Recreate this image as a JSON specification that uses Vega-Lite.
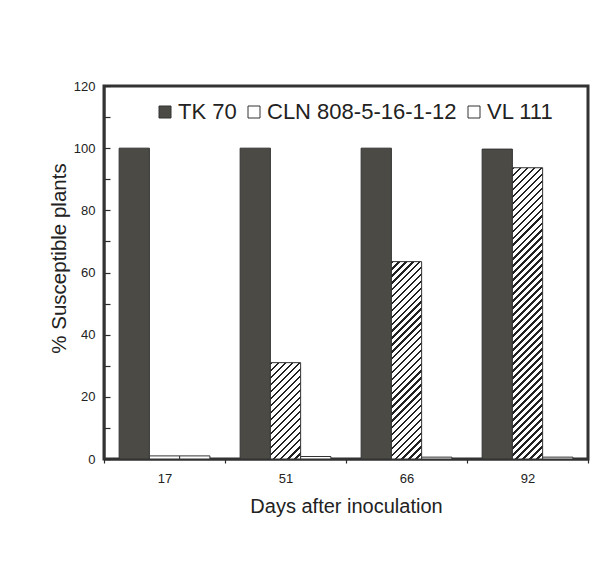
{
  "$schema": "https://vega.github.io/schema/vega-lite/v6.json",
  "autosize": {"type": "none"},
  "padding": {"left": 104, "top": 86, "right": 26, "bottom": 105},
  "width": 484,
  "height": 373,
  "background": "#ffffff",
  "view": {"stroke": "#333333", "strokeWidth": 3},
  "config": {
    "axis": {
      "domainColor": "#333333", "domainWidth": 2, "tickColor": "#2a2a2a", "tickWidth": 1.2,
      "labelColor": "#222222", "titleColor": "#222222",
      "labelFont": "Liberation Sans", "titleFont": "Liberation Sans",
      "titleFontWeight": "normal", "grid": false
    },
    "legend": {"labelFont": "Liberation Sans"}
  },
  "data": {
    "values": [
      {"day": "17", "series": "TK 70", "value": 100},
      {"day": "17", "series": "CLN 808-5-16-1-12", "value": 1},
      {"day": "17", "series": "VL 111", "value": 1},
      {"day": "51", "series": "TK 70", "value": 100},
      {"day": "51", "series": "CLN 808-5-16-1-12", "value": 31},
      {"day": "51", "series": "VL 111", "value": 0.8},
      {"day": "66", "series": "TK 70", "value": 100},
      {"day": "66", "series": "CLN 808-5-16-1-12", "value": 63.5},
      {"day": "66", "series": "VL 111", "value": 0.6},
      {"day": "92", "series": "TK 70", "value": 99.7},
      {"day": "92", "series": "CLN 808-5-16-1-12", "value": 93.7},
      {"day": "92", "series": "VL 111", "value": 0.6}
    ]
  },
  "mark": {"type": "bar", "stroke": "#333333", "strokeWidth": 1},
  "encoding": {
    "x": {
      "field": "day", "type": "nominal",
      "scale": {"paddingInner": 0, "paddingOuter": 0},
      "title": "Days after inoculation",
      "axis": {"labelAngle": 0, "labelFontSize": 13, "labelPadding": 9, "tickSize": 4, "tickBand": "extent", "titleFontSize": 20, "titlePadding": 11}
    },
    "xOffset": {
      "field": "series", "type": "nominal",
      "sort": ["TK 70", "CLN 808-5-16-1-12", "VL 111"],
      "scale": {"paddingInner": 0, "paddingOuter": 0.5}
    },
    "y": {
      "field": "value", "type": "quantitative",
      "scale": {"domain": [0, 120], "nice": false},
      "title": "% Susceptible plants",
      "axis": {
        "domain": true, "domainColor": "#333333", "domainWidth": 2,
        "values": [0, 10, 20, 30, 40, 50, 60, 70, 80, 90, 100, 110, 120],
        "labelExpr": "datum.value % 20 === 0 ? datum.label : ''",
        "labelFontSize": 13, "tickSize": -6, "labelPadding": 15,
        "titleFontSize": 20.5, "titlePadding": 4, "titleY": 172
      }
    },
    "fill": {
      "condition": [
        {"test": "datum.day === '51' && datum.series === 'CLN 808-5-16-1-12'",
         "value": {"gradient": "linear", "x1": 0, "y1": 0, "x2": 0.3755, "y2": 1.1961, "stops": [
          {"offset":0,"color":"#fff"},{"offset":0,"color":"#222"},{"offset":0.0194,"color":"#222"},{"offset":0.0194,"color":"#fff"},
          {"offset":0.0556,"color":"#fff"},{"offset":0.0556,"color":"#222"},{"offset":0.075,"color":"#222"},{"offset":0.075,"color":"#fff"},
          {"offset":0.1111,"color":"#fff"},{"offset":0.1111,"color":"#222"},{"offset":0.1306,"color":"#222"},{"offset":0.1306,"color":"#fff"},
          {"offset":0.1667,"color":"#fff"},{"offset":0.1667,"color":"#222"},{"offset":0.1861,"color":"#222"},{"offset":0.1861,"color":"#fff"},
          {"offset":0.2222,"color":"#fff"},{"offset":0.2222,"color":"#222"},{"offset":0.2417,"color":"#222"},{"offset":0.2417,"color":"#fff"},
          {"offset":0.2778,"color":"#fff"},{"offset":0.2778,"color":"#222"},{"offset":0.2972,"color":"#222"},{"offset":0.2972,"color":"#fff"},
          {"offset":0.3333,"color":"#fff"},{"offset":0.3333,"color":"#222"},{"offset":0.3528,"color":"#222"},{"offset":0.3528,"color":"#fff"},
          {"offset":0.3889,"color":"#fff"},{"offset":0.3889,"color":"#222"},{"offset":0.4083,"color":"#222"},{"offset":0.4083,"color":"#fff"},
          {"offset":0.4444,"color":"#fff"},{"offset":0.4444,"color":"#222"},{"offset":0.4639,"color":"#222"},{"offset":0.4639,"color":"#fff"},
          {"offset":0.5,"color":"#fff"},{"offset":0.5,"color":"#222"},{"offset":0.5194,"color":"#222"},{"offset":0.5194,"color":"#fff"},
          {"offset":0.5556,"color":"#fff"},{"offset":0.5556,"color":"#222"},{"offset":0.575,"color":"#222"},{"offset":0.575,"color":"#fff"},
          {"offset":0.6111,"color":"#fff"},{"offset":0.6111,"color":"#222"},{"offset":0.6306,"color":"#222"},{"offset":0.6306,"color":"#fff"},
          {"offset":0.6667,"color":"#fff"},{"offset":0.6667,"color":"#222"},{"offset":0.6861,"color":"#222"},{"offset":0.6861,"color":"#fff"},
          {"offset":0.7222,"color":"#fff"},{"offset":0.7222,"color":"#222"},{"offset":0.7417,"color":"#222"},{"offset":0.7417,"color":"#fff"},
          {"offset":0.7778,"color":"#fff"},{"offset":0.7778,"color":"#222"},{"offset":0.7972,"color":"#222"},{"offset":0.7972,"color":"#fff"},
          {"offset":0.8333,"color":"#fff"},{"offset":0.8333,"color":"#222"},{"offset":0.8528,"color":"#222"},{"offset":0.8528,"color":"#fff"},
          {"offset":0.8889,"color":"#fff"},{"offset":0.8889,"color":"#222"},{"offset":0.9083,"color":"#222"},{"offset":0.9083,"color":"#fff"},
          {"offset":0.9444,"color":"#fff"},{"offset":0.9444,"color":"#222"},{"offset":0.9639,"color":"#222"},{"offset":0.9639,"color":"#fff"},
          {"offset":1,"color":"#fff"}
         ]}},
        {"test": "datum.day === '66' && datum.series === 'CLN 808-5-16-1-12'",
         "value": {"gradient": "linear", "x1": 0, "y1": 0, "x2": 0.17269, "y2": 1.12678, "stops": [
          {"offset":0,"color":"#fff"},{"offset":0,"color":"#222"},{"offset":0.0106,"color":"#222"},{"offset":0.0106,"color":"#fff"},
          {"offset":0.0303,"color":"#fff"},{"offset":0.0303,"color":"#222"},{"offset":0.0409,"color":"#222"},{"offset":0.0409,"color":"#fff"},
          {"offset":0.0606,"color":"#fff"},{"offset":0.0606,"color":"#222"},{"offset":0.0712,"color":"#222"},{"offset":0.0712,"color":"#fff"},
          {"offset":0.0909,"color":"#fff"},{"offset":0.0909,"color":"#222"},{"offset":0.1015,"color":"#222"},{"offset":0.1015,"color":"#fff"},
          {"offset":0.1212,"color":"#fff"},{"offset":0.1212,"color":"#222"},{"offset":0.1318,"color":"#222"},{"offset":0.1318,"color":"#fff"},
          {"offset":0.1515,"color":"#fff"},{"offset":0.1515,"color":"#222"},{"offset":0.1621,"color":"#222"},{"offset":0.1621,"color":"#fff"},
          {"offset":0.1818,"color":"#fff"},{"offset":0.1818,"color":"#222"},{"offset":0.1924,"color":"#222"},{"offset":0.1924,"color":"#fff"},
          {"offset":0.2121,"color":"#fff"},{"offset":0.2121,"color":"#222"},{"offset":0.2227,"color":"#222"},{"offset":0.2227,"color":"#fff"},
          {"offset":0.2424,"color":"#fff"},{"offset":0.2424,"color":"#222"},{"offset":0.253,"color":"#222"},{"offset":0.253,"color":"#fff"},
          {"offset":0.2727,"color":"#fff"},{"offset":0.2727,"color":"#222"},{"offset":0.2833,"color":"#222"},{"offset":0.2833,"color":"#fff"},
          {"offset":0.303,"color":"#fff"},{"offset":0.303,"color":"#222"},{"offset":0.3136,"color":"#222"},{"offset":0.3136,"color":"#fff"},
          {"offset":0.3333,"color":"#fff"},{"offset":0.3333,"color":"#222"},{"offset":0.3439,"color":"#222"},{"offset":0.3439,"color":"#fff"},
          {"offset":0.3636,"color":"#fff"},{"offset":0.3636,"color":"#222"},{"offset":0.3742,"color":"#222"},{"offset":0.3742,"color":"#fff"},
          {"offset":0.3939,"color":"#fff"},{"offset":0.3939,"color":"#222"},{"offset":0.4045,"color":"#222"},{"offset":0.4045,"color":"#fff"},
          {"offset":0.4242,"color":"#fff"},{"offset":0.4242,"color":"#222"},{"offset":0.4348,"color":"#222"},{"offset":0.4348,"color":"#fff"},
          {"offset":0.4545,"color":"#fff"},{"offset":0.4545,"color":"#222"},{"offset":0.4652,"color":"#222"},{"offset":0.4652,"color":"#fff"},
          {"offset":0.4848,"color":"#fff"},{"offset":0.4848,"color":"#222"},{"offset":0.4955,"color":"#222"},{"offset":0.4955,"color":"#fff"},
          {"offset":0.5152,"color":"#fff"},{"offset":0.5152,"color":"#222"},{"offset":0.5258,"color":"#222"},{"offset":0.5258,"color":"#fff"},
          {"offset":0.5455,"color":"#fff"},{"offset":0.5455,"color":"#222"},{"offset":0.5561,"color":"#222"},{"offset":0.5561,"color":"#fff"},
          {"offset":0.5758,"color":"#fff"},{"offset":0.5758,"color":"#222"},{"offset":0.5864,"color":"#222"},{"offset":0.5864,"color":"#fff"},
          {"offset":0.6061,"color":"#fff"},{"offset":0.6061,"color":"#222"},{"offset":0.6167,"color":"#222"},{"offset":0.6167,"color":"#fff"},
          {"offset":0.6364,"color":"#fff"},{"offset":0.6364,"color":"#222"},{"offset":0.647,"color":"#222"},{"offset":0.647,"color":"#fff"},
          {"offset":0.6667,"color":"#fff"},{"offset":0.6667,"color":"#222"},{"offset":0.6773,"color":"#222"},{"offset":0.6773,"color":"#fff"},
          {"offset":0.697,"color":"#fff"},{"offset":0.697,"color":"#222"},{"offset":0.7076,"color":"#222"},{"offset":0.7076,"color":"#fff"},
          {"offset":0.7273,"color":"#fff"},{"offset":0.7273,"color":"#222"},{"offset":0.7379,"color":"#222"},{"offset":0.7379,"color":"#fff"},
          {"offset":0.7576,"color":"#fff"},{"offset":0.7576,"color":"#222"},{"offset":0.7682,"color":"#222"},{"offset":0.7682,"color":"#fff"},
          {"offset":0.7879,"color":"#fff"},{"offset":0.7879,"color":"#222"},{"offset":0.7985,"color":"#222"},{"offset":0.7985,"color":"#fff"},
          {"offset":0.8182,"color":"#fff"},{"offset":0.8182,"color":"#222"},{"offset":0.8288,"color":"#222"},{"offset":0.8288,"color":"#fff"},
          {"offset":0.8485,"color":"#fff"},{"offset":0.8485,"color":"#222"},{"offset":0.8591,"color":"#222"},{"offset":0.8591,"color":"#fff"},
          {"offset":0.8788,"color":"#fff"},{"offset":0.8788,"color":"#222"},{"offset":0.8894,"color":"#222"},{"offset":0.8894,"color":"#fff"},
          {"offset":0.9091,"color":"#fff"},{"offset":0.9091,"color":"#222"},{"offset":0.9197,"color":"#222"},{"offset":0.9197,"color":"#fff"},
          {"offset":0.9394,"color":"#fff"},{"offset":0.9394,"color":"#222"},{"offset":0.95,"color":"#222"},{"offset":0.95,"color":"#fff"},
          {"offset":0.9697,"color":"#fff"},{"offset":0.9697,"color":"#222"},{"offset":0.9803,"color":"#222"},{"offset":0.9803,"color":"#fff"},
          {"offset":1,"color":"#fff"}
         ]}},
        {"test": "datum.day === '92' && datum.series === 'CLN 808-5-16-1-12'",
         "value": {"gradient": "linear", "x1": 0, "y1": 0, "x2": 0.11343, "y2": 1.09214, "stops": [
          {"offset":0,"color":"#fff"},{"offset":0,"color":"#222"},{"offset":0.0076,"color":"#222"},{"offset":0.0076,"color":"#fff"},
          {"offset":0.0217,"color":"#fff"},{"offset":0.0217,"color":"#222"},{"offset":0.0293,"color":"#222"},{"offset":0.0293,"color":"#fff"},
          {"offset":0.0435,"color":"#fff"},{"offset":0.0435,"color":"#222"},{"offset":0.0511,"color":"#222"},{"offset":0.0511,"color":"#fff"},
          {"offset":0.0652,"color":"#fff"},{"offset":0.0652,"color":"#222"},{"offset":0.0728,"color":"#222"},{"offset":0.0728,"color":"#fff"},
          {"offset":0.087,"color":"#fff"},{"offset":0.087,"color":"#222"},{"offset":0.0946,"color":"#222"},{"offset":0.0946,"color":"#fff"},
          {"offset":0.1087,"color":"#fff"},{"offset":0.1087,"color":"#222"},{"offset":0.1163,"color":"#222"},{"offset":0.1163,"color":"#fff"},
          {"offset":0.1304,"color":"#fff"},{"offset":0.1304,"color":"#222"},{"offset":0.138,"color":"#222"},{"offset":0.138,"color":"#fff"},
          {"offset":0.1522,"color":"#fff"},{"offset":0.1522,"color":"#222"},{"offset":0.1598,"color":"#222"},{"offset":0.1598,"color":"#fff"},
          {"offset":0.1739,"color":"#fff"},{"offset":0.1739,"color":"#222"},{"offset":0.1815,"color":"#222"},{"offset":0.1815,"color":"#fff"},
          {"offset":0.1957,"color":"#fff"},{"offset":0.1957,"color":"#222"},{"offset":0.2033,"color":"#222"},{"offset":0.2033,"color":"#fff"},
          {"offset":0.2174,"color":"#fff"},{"offset":0.2174,"color":"#222"},{"offset":0.225,"color":"#222"},{"offset":0.225,"color":"#fff"},
          {"offset":0.2391,"color":"#fff"},{"offset":0.2391,"color":"#222"},{"offset":0.2467,"color":"#222"},{"offset":0.2467,"color":"#fff"},
          {"offset":0.2609,"color":"#fff"},{"offset":0.2609,"color":"#222"},{"offset":0.2685,"color":"#222"},{"offset":0.2685,"color":"#fff"},
          {"offset":0.2826,"color":"#fff"},{"offset":0.2826,"color":"#222"},{"offset":0.2902,"color":"#222"},{"offset":0.2902,"color":"#fff"},
          {"offset":0.3043,"color":"#fff"},{"offset":0.3043,"color":"#222"},{"offset":0.312,"color":"#222"},{"offset":0.312,"color":"#fff"},
          {"offset":0.3261,"color":"#fff"},{"offset":0.3261,"color":"#222"},{"offset":0.3337,"color":"#222"},{"offset":0.3337,"color":"#fff"},
          {"offset":0.3478,"color":"#fff"},{"offset":0.3478,"color":"#222"},{"offset":0.3554,"color":"#222"},{"offset":0.3554,"color":"#fff"},
          {"offset":0.3696,"color":"#fff"},{"offset":0.3696,"color":"#222"},{"offset":0.3772,"color":"#222"},{"offset":0.3772,"color":"#fff"},
          {"offset":0.3913,"color":"#fff"},{"offset":0.3913,"color":"#222"},{"offset":0.3989,"color":"#222"},{"offset":0.3989,"color":"#fff"},
          {"offset":0.413,"color":"#fff"},{"offset":0.413,"color":"#222"},{"offset":0.4207,"color":"#222"},{"offset":0.4207,"color":"#fff"},
          {"offset":0.4348,"color":"#fff"},{"offset":0.4348,"color":"#222"},{"offset":0.4424,"color":"#222"},{"offset":0.4424,"color":"#fff"},
          {"offset":0.4565,"color":"#fff"},{"offset":0.4565,"color":"#222"},{"offset":0.4641,"color":"#222"},{"offset":0.4641,"color":"#fff"},
          {"offset":0.4783,"color":"#fff"},{"offset":0.4783,"color":"#222"},{"offset":0.4859,"color":"#222"},{"offset":0.4859,"color":"#fff"},
          {"offset":0.5,"color":"#fff"},{"offset":0.5,"color":"#222"},{"offset":0.5076,"color":"#222"},{"offset":0.5076,"color":"#fff"},
          {"offset":0.5217,"color":"#fff"},{"offset":0.5217,"color":"#222"},{"offset":0.5293,"color":"#222"},{"offset":0.5293,"color":"#fff"},
          {"offset":0.5435,"color":"#fff"},{"offset":0.5435,"color":"#222"},{"offset":0.5511,"color":"#222"},{"offset":0.5511,"color":"#fff"},
          {"offset":0.5652,"color":"#fff"},{"offset":0.5652,"color":"#222"},{"offset":0.5728,"color":"#222"},{"offset":0.5728,"color":"#fff"},
          {"offset":0.587,"color":"#fff"},{"offset":0.587,"color":"#222"},{"offset":0.5946,"color":"#222"},{"offset":0.5946,"color":"#fff"},
          {"offset":0.6087,"color":"#fff"},{"offset":0.6087,"color":"#222"},{"offset":0.6163,"color":"#222"},{"offset":0.6163,"color":"#fff"},
          {"offset":0.6304,"color":"#fff"},{"offset":0.6304,"color":"#222"},{"offset":0.638,"color":"#222"},{"offset":0.638,"color":"#fff"},
          {"offset":0.6522,"color":"#fff"},{"offset":0.6522,"color":"#222"},{"offset":0.6598,"color":"#222"},{"offset":0.6598,"color":"#fff"},
          {"offset":0.6739,"color":"#fff"},{"offset":0.6739,"color":"#222"},{"offset":0.6815,"color":"#222"},{"offset":0.6815,"color":"#fff"},
          {"offset":0.6957,"color":"#fff"},{"offset":0.6957,"color":"#222"},{"offset":0.7033,"color":"#222"},{"offset":0.7033,"color":"#fff"},
          {"offset":0.7174,"color":"#fff"},{"offset":0.7174,"color":"#222"},{"offset":0.725,"color":"#222"},{"offset":0.725,"color":"#fff"},
          {"offset":0.7391,"color":"#fff"},{"offset":0.7391,"color":"#222"},{"offset":0.7467,"color":"#222"},{"offset":0.7467,"color":"#fff"},
          {"offset":0.7609,"color":"#fff"},{"offset":0.7609,"color":"#222"},{"offset":0.7685,"color":"#222"},{"offset":0.7685,"color":"#fff"},
          {"offset":0.7826,"color":"#fff"},{"offset":0.7826,"color":"#222"},{"offset":0.7902,"color":"#222"},{"offset":0.7902,"color":"#fff"},
          {"offset":0.8043,"color":"#fff"},{"offset":0.8043,"color":"#222"},{"offset":0.812,"color":"#222"},{"offset":0.812,"color":"#fff"},
          {"offset":0.8261,"color":"#fff"},{"offset":0.8261,"color":"#222"},{"offset":0.8337,"color":"#222"},{"offset":0.8337,"color":"#fff"},
          {"offset":0.8478,"color":"#fff"},{"offset":0.8478,"color":"#222"},{"offset":0.8554,"color":"#222"},{"offset":0.8554,"color":"#fff"},
          {"offset":0.8696,"color":"#fff"},{"offset":0.8696,"color":"#222"},{"offset":0.8772,"color":"#222"},{"offset":0.8772,"color":"#fff"},
          {"offset":0.8913,"color":"#fff"},{"offset":0.8913,"color":"#222"},{"offset":0.8989,"color":"#222"},{"offset":0.8989,"color":"#fff"},
          {"offset":0.913,"color":"#fff"},{"offset":0.913,"color":"#222"},{"offset":0.9207,"color":"#222"},{"offset":0.9207,"color":"#fff"},
          {"offset":0.9348,"color":"#fff"},{"offset":0.9348,"color":"#222"},{"offset":0.9424,"color":"#222"},{"offset":0.9424,"color":"#fff"},
          {"offset":0.9565,"color":"#fff"},{"offset":0.9565,"color":"#222"},{"offset":0.9641,"color":"#222"},{"offset":0.9641,"color":"#fff"},
          {"offset":0.9783,"color":"#fff"},{"offset":0.9783,"color":"#222"},{"offset":0.9859,"color":"#222"},{"offset":0.9859,"color":"#fff"},
          {"offset":1,"color":"#fff"}
         ]}}
      ],
      "field": "series", "type": "nominal",
      "scale": {"domain": ["TK 70", "CLN 808-5-16-1-12", "VL 111"], "range": ["#4b4a45", "#ffffff", "#ffffff"]},
      "legend": {
        "title": null, "orient": "none", "legendX": 50, "legendY": 15, "direction": "horizontal",
        "padding": 0, "symbolType": "square", "symbolSize": 144, "symbolStrokeWidth": 1, "symbolStrokeColor": "#333333",
        "labelFontSize": 22, "labelColor": "#222222", "labelOffset": 2, "columnPadding": 6, "labelLimit": 0,
        "encode": {
          "symbols": {
            "update": {
              "stroke": {"value": "#333333"},
              "strokeWidth": {"value": 1},
              "fill": [
                {"test": "datum.value === 'TK 70'", "value": "#4b4a45"},
                {"test": "datum.value === 'CLN 808-5-16-1-12'", "value": {"gradient": "linear", "x1": 0, "y1": 0, "x2": 1, "y2": 1, "stops": [
                  {"offset":0,"color":"#fff"},{"offset":0.12,"color":"#fff"},{"offset":0.12,"color":"#222"},{"offset":0.24,"color":"#222"},{"offset":0.24,"color":"#fff"},
                  {"offset":0.45,"color":"#fff"},{"offset":0.45,"color":"#222"},{"offset":0.57,"color":"#222"},{"offset":0.57,"color":"#fff"},
                  {"offset":0.78,"color":"#fff"},{"offset":0.78,"color":"#222"},{"offset":0.9,"color":"#222"},{"offset":0.9,"color":"#fff"},{"offset":1,"color":"#fff"}
                ]}},
                {"value": "#ffffff"}
              ]
            }
          }
        }
      }
    }
  }
}
